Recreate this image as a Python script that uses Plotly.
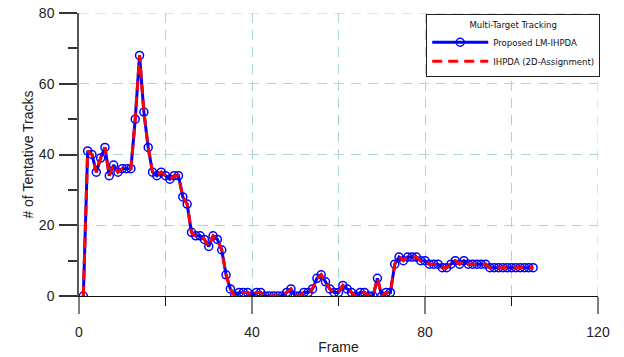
import plotly.graph_objects as go

frames = list(range(1, 106))
tracks = [
    0, 41, 40, 35, 39, 42, 34, 37, 35, 36,
    36, 36, 50, 68, 52, 42, 35, 34, 35, 34,
    33, 34, 34, 28, 26, 18, 17, 17, 16, 14,
    17, 16, 13, 6, 2, 0, 1, 1, 1, 0,
    1, 1, 0, 0, 0, 0, 0, 1, 2, 0,
    0, 1, 1, 2, 5, 6, 4, 2, 1, 1,
    3, 2, 1, 0, 1, 1, 0, 0, 5, 0,
    1, 1, 9, 11, 10, 11, 11, 11, 10, 10,
    9, 9, 9, 8, 8, 9, 10, 9, 10, 9,
    9, 9, 9, 9, 8, 8, 8, 8, 8, 8,
    8, 8, 8, 8, 8,
]
series_names = ["Proposed LM-IHPDA", "IHPDA (2D-Assignment)"]
legend_title = "Multi-Target Tracking"
x_title = "Frame"
y_title = "# of Tentative Tracks"
x_ticks = [0, 40, 80, 120]
y_ticks = [0, 20, 40, 60, 80]

GRID = "#a9d6d6"
NARROW = "Liberation Sans Narrow, Arial Narrow, DejaVu Sans Condensed, Liberation Sans, Arial, sans-serif"

fig = go.Figure()
fig.add_trace(go.Scatter(
    x=frames, y=tracks, mode="lines+markers", name=series_names[0],
    line=dict(color="#0000ff", width=3),
    marker=dict(symbol="circle-open", size=8, color="#0000ff", line=dict(width=1.5, color="#0000ff")),
))
fig.add_trace(go.Scatter(
    x=frames, y=tracks, mode="lines", name=series_names[1],
    line=dict(color="#ff0000", width=3, dash="10px,6px"),
))

# dashed grid lines at the plot edges (plotly drops grid lines lying on the edge)
fig.add_shape(type="line", xref="paper", x0=0, x1=1, yref="y", y0=y_ticks[-1], y1=y_ticks[-1],
              line=dict(color=GRID, width=1, dash="10px,7px"), layer="below")
fig.add_shape(type="line", xref="x", x0=x_ticks[-1], x1=x_ticks[-1], yref="paper", y0=0, y1=1,
              line=dict(color=GRID, width=1, dash="10px,7px"), layer="below")

fig.add_annotation(text=y_title, xref="paper", yref="paper", x=-0.1, y=0.5,
                   xanchor="center", yanchor="middle", textangle=-90, showarrow=False,
                   font=dict(family="Liberation Sans, Arial, sans-serif", size=14, color="#222"))

fig.update_layout(
    width=624, height=357,
    margin=dict(l=79, r=26, t=13, b=61, autoexpand=False),
    paper_bgcolor="white", plot_bgcolor="white",
    font=dict(family="Liberation Sans, Arial, sans-serif", size=14, color="#222"),
    showlegend=True,
    legend=dict(
        x=0.669, y=0.995, xanchor="left", yanchor="top",
        bgcolor="white", bordercolor="#222", borderwidth=1,
        font=dict(family=NARROW, size=9.5, color="#111"),
        title=dict(text=legend_title, side="top center", font=dict(family=NARROW, size=9.5, color="#111")),
        itemwidth=56, tracegroupgap=0,
    ),
    xaxis=dict(
        range=[0, 120], tickvals=x_ticks, ticktext=[str(v) for v in x_ticks],
        automargin=False,
        showline=True, linecolor="#111", linewidth=1,
        ticks="outside", ticklen=17, tickwidth=2, tickcolor="#808080",
        ticklabelstandoff=6,
        showgrid=True, gridcolor=GRID, gridwidth=1, griddash="10px,7px",
        minor=dict(dtick=20, tick0=0, ticks="outside", ticklen=9, tickwidth=1, tickcolor="#111",
                   showgrid=True, gridcolor=GRID, gridwidth=1, griddash="10px,7px"),
        zeroline=False,
        title=dict(text=x_title, standoff=3, font=dict(size=14)),
    ),
    yaxis=dict(
        range=[0, 80], tickvals=y_ticks, ticktext=[str(v) for v in y_ticks],
        automargin=False,
        showline=True, linecolor="#555", linewidth=1.5,
        ticks="outside", ticklen=18, tickwidth=1.5, tickcolor="#333",
        ticklabelstandoff=2,
        showgrid=True, gridcolor=GRID, gridwidth=1, griddash="10px,7px",
        minor=dict(dtick=10, tick0=0, ticks="outside", ticklen=9, tickwidth=1.5, tickcolor="#333",
                   showgrid=False),
        zeroline=False,
    ),
)

fig.write_html("out.html", config={"displayModeBar": False},
               post_script="document.body.style.margin='0';")
